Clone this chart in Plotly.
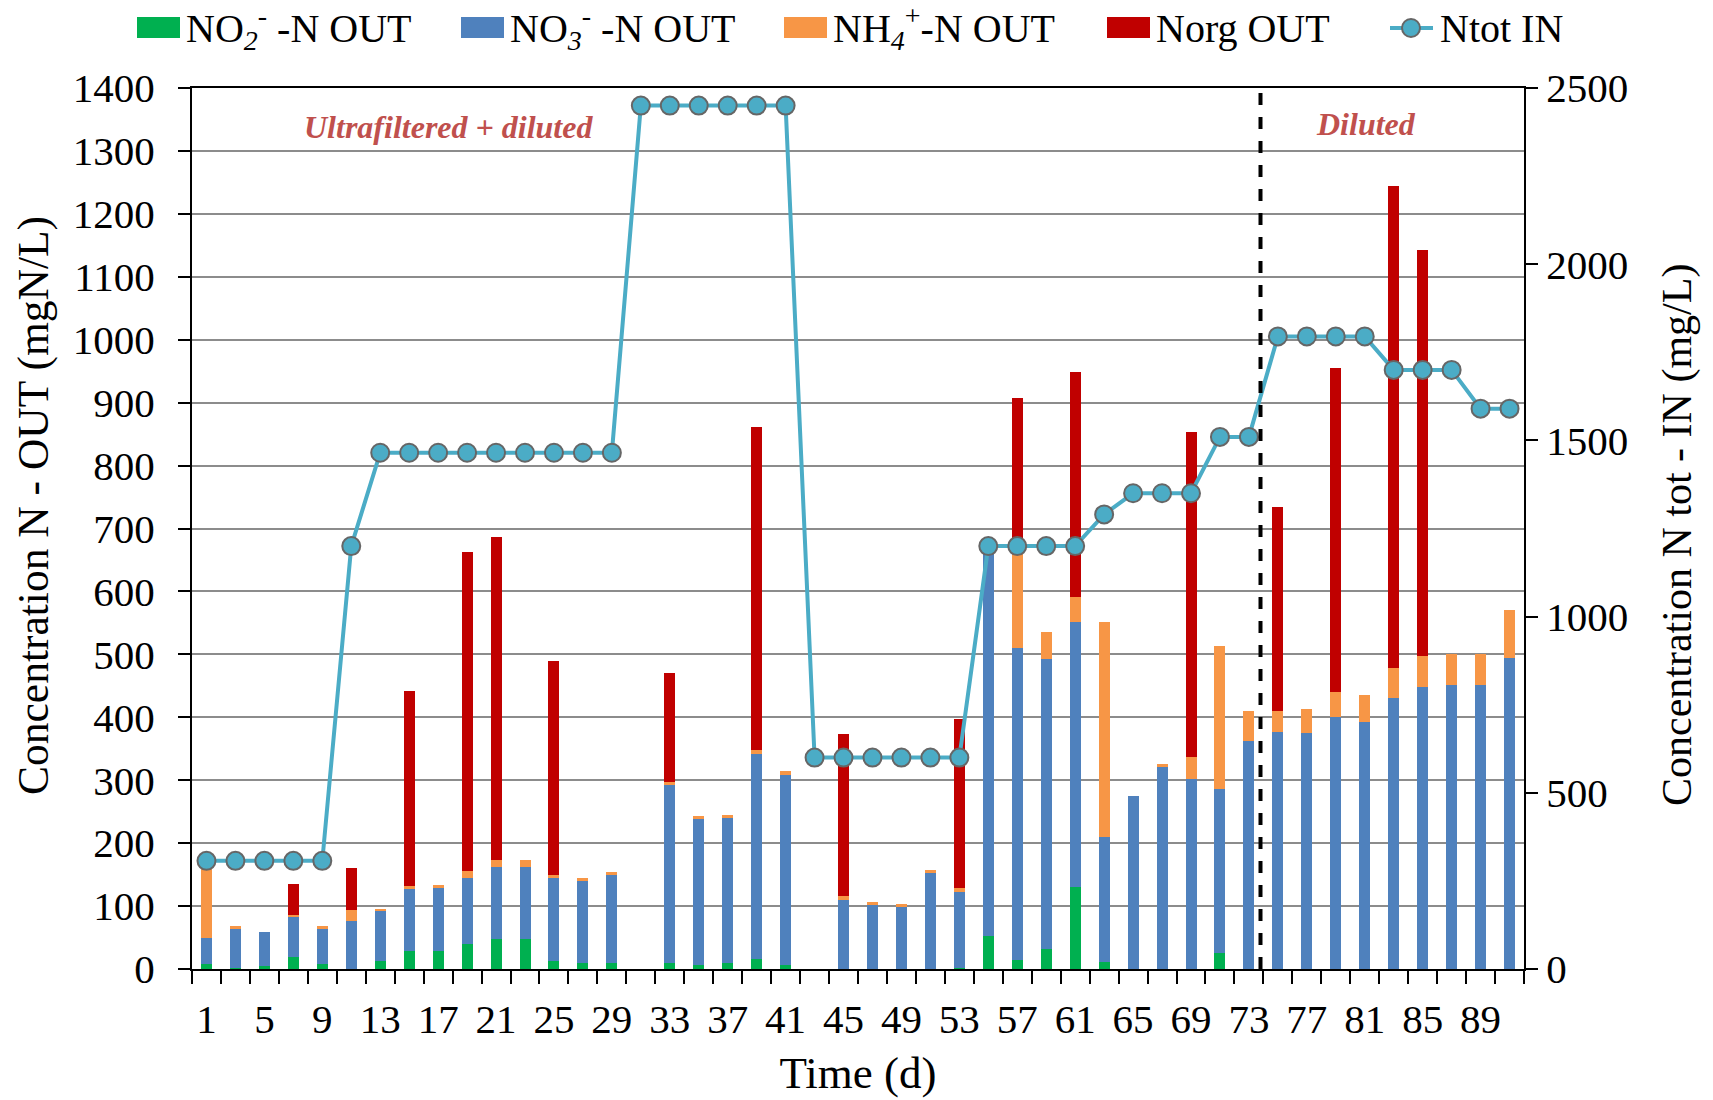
import plotly.graph_objects as go

# Sampling days (every second day)
days = list(range(1, 92, 2))

# Effluent nitrogen species (mgN/L)
no2_out = [8, 2, 4, 19, 8, 0, 12, 28, 28, 40, 47, 47, 13, 9, 9, 0,
           9, 7, 9, 16, 7, 0, 0, 0, 0, 0, 2, 52, 15, 32, 130, 11,
           0, 0, 0, 25, 0, 0, 0, 0, 0, 0, 0, 0, 0, 0]
no3_out = [41, 61, 55, 64, 55, 77, 81, 99, 101, 104, 115, 115, 131, 131, 140, 0,
           284, 231, 231, 325, 302, 0, 109, 102, 100, 153, 121, 618, 495, 461, 422, 199,
           275, 321, 302, 261, 362, 376, 375, 400, 393, 430, 448, 451, 451, 494]
nh4_out = [116, 5, 0, 3, 5, 16, 1.5, 5, 5, 12, 11, 11, 5, 5, 5, 0,
           4, 5, 5, 7, 5, 0, 7, 5, 3, 4, 5, 0, 160, 42, 39, 341,
           0, 4, 35, 228, 48, 34, 38, 40, 43, 49, 50, 50, 50, 76]
norg_out = [0, 0, 0, 49, 0, 67, 0, 310, 0, 507, 514, 0, 341, 0, 0, 0,
            173, 0, 0, 513, 0, 0, 258, 0, 0, 0, 270, 0, 238, 0, 358, 0,
            0, 0, 516, 0, 0, 324, 0, 515, 0, 766, 644, 0, 0, 0]

# Influent total nitrogen (mg/L)
ntot_in = [307, 307, 307, 307, 307, 1200, 1465, 1465, 1465, 1465, 1465, 1465, 1465, 1465, 1465, 2450,
           2450, 2450, 2450, 2450, 2450, 600, 600, 600, 600, 600, 600, 1200, 1200, 1200, 1200, 1290,
           1350, 1350, 1350, 1510, 1510, 1795, 1795, 1795, 1795, 1700, 1700, 1700, 1590, 1590]

x_labels = list(range(1, 90, 4))
phase_change_day = 73.8

FONT = "Liberation Serif"
BAR_W = 0.76
W, H = 1713, 1100
L, R, T, B = 192, 189, 88, 131
PW, PH = W - L - R, H - T - B

LINE_COLOR = "#4BACC6"
series_names = ["NO<sub><i>2</i></sub><sup>-</sup> -N OUT",
                "NO<sub><i>3</i></sub><sup>-</sup> -N OUT",
                "NH<sub><i>4</i></sub><sup>+</sup>-N OUT",
                "Norg OUT"]
series_colors = ["#00B050", "#4F81BD", "#F79646", "#C00000"]
series_values = [no2_out, no3_out, nh4_out, norg_out]


def px_x(p):
    return (p - L) / PW


def px_y(p):
    return 1 - (p - T) / PH


fig = go.Figure()

for name, vals, color in zip(series_names, series_values, series_colors):
    fig.add_trace(go.Bar(
        x=days, y=vals, name=name, width=BAR_W,
        marker=dict(color=color, line=dict(width=0)),
    ))

fig.add_trace(go.Scatter(
    x=days, y=ntot_in, name="Ntot IN", yaxis="y2", mode="lines+markers",
    line=dict(color=LINE_COLOR, width=4),
    marker=dict(size=18, color=LINE_COLOR, line=dict(color="#666666", width=2)),
))

# Phase separator
fig.add_shape(type="line", xref="x", yref="paper",
              x0=phase_change_day, x1=phase_change_day, y0=0, y1=1,
              line=dict(color="black", width=4, dash="dash"))

# Phase labels
phase_font = dict(family=FONT, size=32, color="#C0504D")
fig.add_annotation(text="<b><i>Ultrafiltered + diluted</i></b>", xref="paper", yref="paper",
                   x=px_x(448), y=px_y(127), xanchor="center", yanchor="middle",
                   showarrow=False, font=phase_font)
fig.add_annotation(text="<b><i>Diluted</i></b>", xref="paper", yref="paper",
                   x=px_x(1366), y=px_y(124), xanchor="center", yanchor="middle",
                   showarrow=False, font=phase_font)

# Axis titles for the two value axes
fig.add_annotation(text="Concentration N - OUT (mgN/L)", xref="paper", yref="paper",
                   x=px_x(33), y=px_y(506), xanchor="center", yanchor="middle", textangle=-90,
                   showarrow=False, font=dict(family=FONT, size=43.5, color="black"))
fig.add_annotation(text="Concentration N tot - IN (mg/L)", xref="paper", yref="paper",
                   x=px_x(1677), y=px_y(535), xanchor="center", yanchor="middle", textangle=-90,
                   showarrow=False, font=dict(family=FONT, size=42, color="black"))

# Legend row along the top edge
legend_font = dict(family=FONT, size=40, color="black")
legend_y = 28
swatch_left = [137, 461, 784, 1107]
for name, color, x0 in zip(series_names, series_colors, swatch_left):
    fig.add_shape(type="rect", xref="paper", yref="paper",
                  x0=px_x(x0), x1=px_x(x0 + 43), y0=px_y(legend_y + 10), y1=px_y(legend_y - 11),
                  fillcolor=color, line=dict(width=0))
    fig.add_annotation(text=name, xref="paper", yref="paper", x=px_x(x0 + 47), y=px_y(legend_y),
                       xanchor="left", yanchor="middle", showarrow=False, font=legend_font)
fig.add_shape(type="line", xref="paper", yref="paper",
              x0=px_x(1390), x1=px_x(1433), y0=px_y(legend_y), y1=px_y(legend_y),
              line=dict(color=LINE_COLOR, width=4))
fig.add_shape(type="circle", xref="paper", yref="paper",
              x0=px_x(1402), x1=px_x(1420), y0=px_y(legend_y + 9), y1=px_y(legend_y - 9),
              fillcolor=LINE_COLOR, line=dict(color="#666666", width=2))
fig.add_annotation(text="Ntot IN", xref="paper", yref="paper", x=px_x(1438), y=px_y(legend_y),
                   xanchor="left", yanchor="middle", showarrow=False, font=legend_font)

tick_font = dict(family=FONT, size=41, color="black")

fig.update_layout(
    width=W, height=H,
    margin=dict(l=L, r=R, t=T, b=B, autoexpand=False),
    paper_bgcolor="white", plot_bgcolor="white",
    barmode="stack",
    font=dict(family=FONT, size=41, color="black"),
    showlegend=False,
    xaxis=dict(
        range=[0, 92],
        tickmode="array", tickvals=x_labels, ticktext=[str(v) for v in x_labels],
        ticks="outside", ticklen=13, tickcolor="rgba(0,0,0,0)",
        tickfont=tick_font,
        minor=dict(tick0=0, dtick=2, ticks="outside", ticklen=13, tickwidth=2, tickcolor="black"),
        showline=True, linecolor="black", linewidth=2, mirror=True,
        showgrid=False, zeroline=False,
        title=dict(text="Time (d)", font=dict(family=FONT, size=45), standoff=15),
    ),
    yaxis=dict(
        range=[0, 1400], dtick=100,
        ticks="outside", ticklen=12, tickwidth=2, tickcolor="black",
        tickfont=tick_font, ticklabelstandoff=15,
        showline=True, linecolor="black", linewidth=2,
        showgrid=True, gridcolor="#8C8C8C", gridwidth=2, zeroline=False,
    ),
    yaxis2=dict(
        range=[0, 2500], dtick=500, overlaying="y", side="right",
        ticks="outside", ticklen=12, tickwidth=2, tickcolor="black",
        tickfont=tick_font,
        showline=True, linecolor="black", linewidth=2,
        showgrid=False, zeroline=False,
    ),
)

fig.write_html("out.html")
